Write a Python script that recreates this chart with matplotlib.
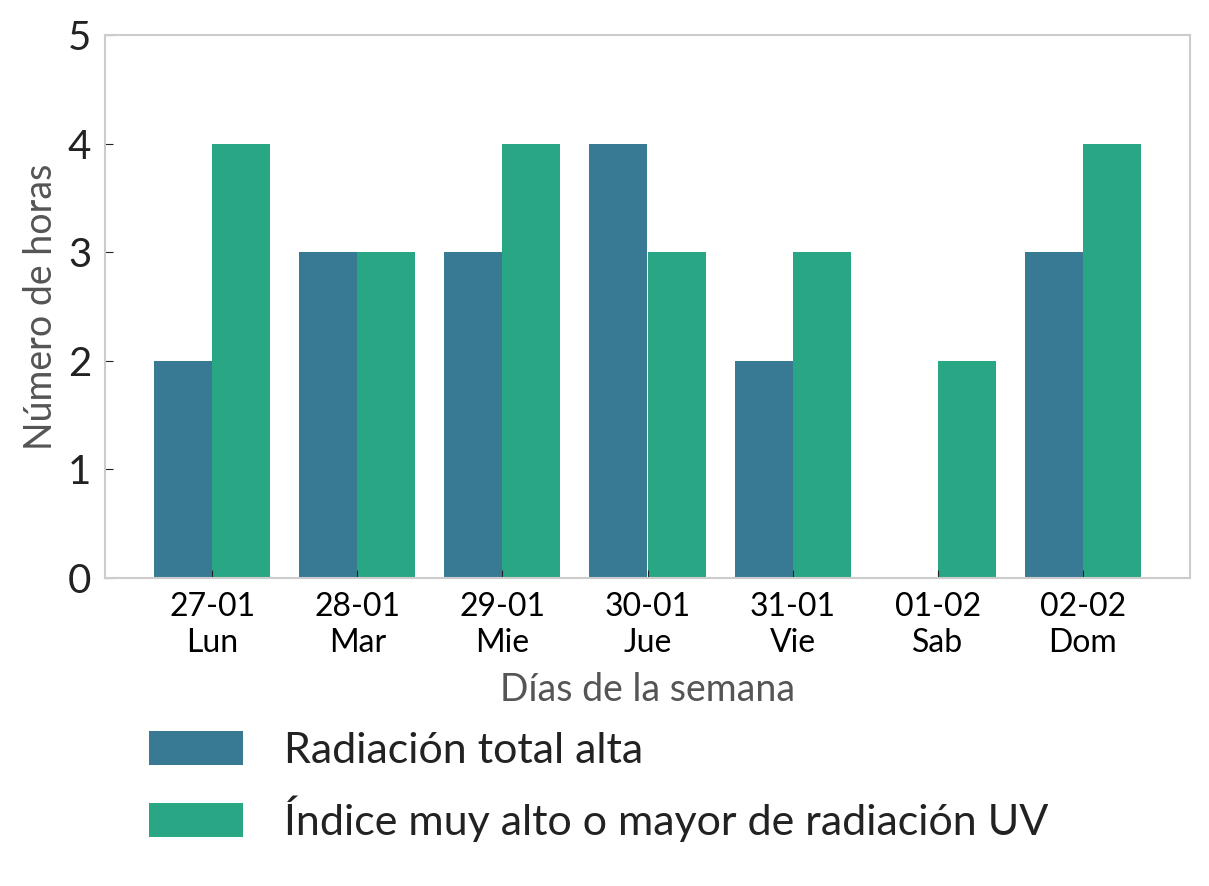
import numpy as np
import matplotlib
matplotlib.use("Agg")
import matplotlib.pyplot as plt

plt.rcParams['font.family'] = ['Lato', 'DejaVu Sans']

# data
dias = ["27-01\nLun", "28-01\nMar", "29-01\nMie", "30-01\nJue",
        "31-01\nVie", "01-02\nSab", "02-02\nDom"]
radiacion_total = [2, 3, 3, 4, 2, 0, 3]
indice_uv = [4, 3, 4, 3, 3, 2, 4]
series_names = ["Radiación total alta", "Índice muy alto o mayor de radiación UV"]

color_total = "#387a93"
color_uv = "#29a785"

fig = plt.figure(figsize=(12.09, 8.86), dpi=100)
ax = fig.add_axes([105 / 1209, 1 - 578 / 886, (1190 - 105) / 1209, (578 - 35) / 886])

x = np.arange(len(dias))
w = 0.4
ax.bar(x - w / 2, radiacion_total, width=w, color=color_total, label=series_names[0])
ax.bar(x + w / 2, indice_uv, width=w, color=color_uv, label=series_names[1])

ax.set_ylim(0, 5)
ax.set_xticks(x)
ax.set_xticklabels(dias, fontsize=23, linespacing=1.25)
ax.tick_params(axis='y', labelsize=29, direction='in', length=6, color='#222222', pad=10)
ax.tick_params(axis='x', direction='in', length=6, color='#222222', pad=10)
for lab in ax.get_yticklabels():
    lab.set_color('#222222')

for s in ax.spines.values():
    s.set_color('#cccccc')
    s.set_linewidth(1.5)

ax.set_ylabel("Número de horas", fontsize=27, color='#555555', labelpad=6)
ax.set_xlabel("Días de la semana", fontsize=27, color='#555555', labelpad=10)

fig.legend(loc='upper left', bbox_to_anchor=(110 / 1209, 1 - 692 / 886),
           frameon=False, fontsize=31, handlelength=2.2, handleheight=0.85,
           labelspacing=0.6, handletextpad=0.95, labelcolor='#222222')

fig.savefig("out.png", dpi=100)
